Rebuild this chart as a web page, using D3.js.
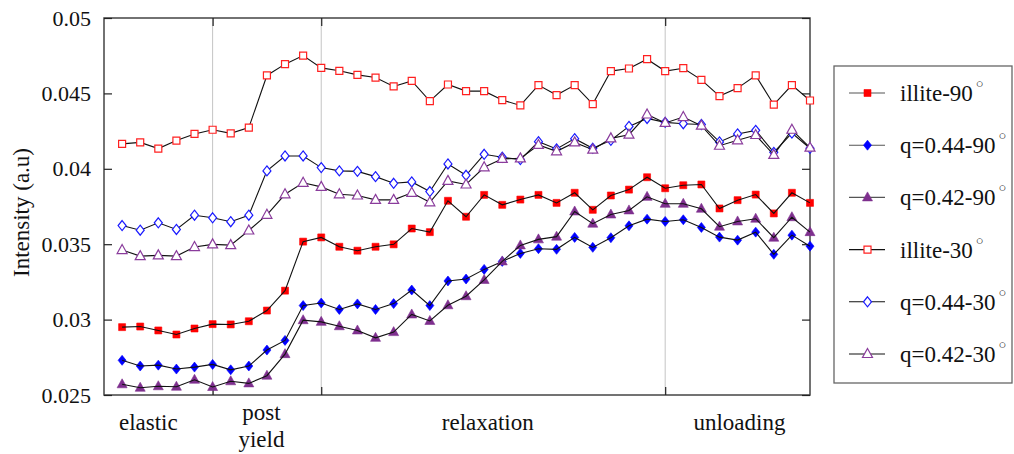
<!DOCTYPE html>
<html>
<head>
<meta charset="utf-8">
<script src="https://cdn.jsdelivr.net/npm/d3@7"></script>
<style>
  body { margin: 0; background: #fff; }
  svg { display: block; }
</style>
</head>
<body>
<svg id="chart" width="1014" height="454"></svg>
<script>
// Sample index along the loading history (1..39)
const samples = d3.range(1, 40);

// Intensity series (a.u)
const illite90 = [0.02950,0.02954,0.02928,0.02901,0.02941,0.02970,0.02968,0.02989,0.03060,0.03192,
  0.03517,0.03545,0.03483,0.03457,0.03483,0.03499,0.03604,0.03580,0.03788,0.03682,
  0.03827,0.03761,0.03796,0.03827,0.03774,0.03841,0.03728,0.03823,0.03862,0.03944,
  0.03871,0.03891,0.03896,0.03737,0.03792,0.03829,0.03704,0.03841,0.03774];
const q044_90 = [0.02730,0.02692,0.02698,0.02672,0.02685,0.02703,0.02667,0.02692,0.02798,0.02862,
  0.03093,0.03110,0.03067,0.03104,0.03067,0.03106,0.03196,0.03093,0.03256,0.03269,
  0.03333,0.03386,0.03439,0.03470,0.03466,0.03545,0.03479,0.03543,0.03622,0.03666,
  0.03651,0.03662,0.03611,0.03547,0.03527,0.03580,0.03433,0.03560,0.03487];
const q042_90 = [0.02571,0.02548,0.02558,0.02555,0.02601,0.02553,0.02591,0.02577,0.02628,0.02771,
  0.02996,0.02985,0.02956,0.02928,0.02879,0.02917,0.03034,0.02991,0.03095,0.03155,
  0.03263,0.03386,0.03492,0.03532,0.03550,0.03717,0.03636,0.03697,0.03724,0.03814,
  0.03768,0.03768,0.03735,0.03616,0.03651,0.03669,0.03543,0.03679,0.03580];
const illite30 = [0.04165,0.04175,0.04134,0.04187,0.04231,0.04259,0.04235,0.04273,0.04619,0.04694,
  0.04751,0.04669,0.04650,0.04623,0.04605,0.04546,0.04583,0.04449,0.04559,0.04515,
  0.04515,0.04456,0.04420,0.04555,0.04489,0.04555,0.04429,0.04648,0.04665,0.04727,
  0.04648,0.04667,0.04590,0.04482,0.04535,0.04619,0.04425,0.04555,0.04453];
const q044_30 = [0.03624,0.03593,0.03642,0.03598,0.03692,0.03675,0.03649,0.03692,0.03986,0.04085,
  0.04085,0.04008,0.03986,0.03983,0.03948,0.03904,0.03913,0.03849,0.04032,0.03957,
  0.04096,0.04077,0.04061,0.04180,0.04132,0.04200,0.04136,0.04189,0.04281,0.04334,
  0.04308,0.04299,0.04294,0.04178,0.04231,0.04255,0.04109,0.04237,0.04136];
const q042_30 = [0.03461,0.03421,0.03426,0.03421,0.03481,0.03499,0.03494,0.03591,0.03695,0.03831,
  0.03907,0.03880,0.03831,0.03823,0.03794,0.03794,0.03841,0.03778,0.03920,0.03896,
  0.04010,0.04066,0.04069,0.04158,0.04116,0.04175,0.04127,0.04202,0.04226,0.04360,
  0.04304,0.04343,0.04286,0.04153,0.04189,0.04224,0.04092,0.04259,0.04140];

// Legend names, marker shapes and colours
const names   = ["illite-90", "q=0.44-90", "q=0.42-90", "illite-30", "q=0.44-30", "q=0.42-30"];
const values  = [illite90, q044_90, q042_90, illite30, q044_30, q042_30];
const shapes  = ["square", "diamond", "triangle", "square", "diamond", "triangle"];
const colors  = ["#ff0000", "#0000ff", "#7e2f8e", "#ff2020", "#1a1aff", "#8a3c9c"];
const filled  = [true, true, true, false, false, false];

// Axis ticks and stage annotations
const yTicks = [0.025, 0.03, 0.035, 0.04, 0.045, 0.05];
const yTickLabels = ["0.025", "0.03", "0.035", "0.04", "0.045", "0.05"];
const stageBounds = [6, 12, 31];
const stageNames = [["elastic"], ["post", "yield"], ["relaxation"], ["unloading"]];
const stageCenters = [2.45, 8.7, 21.2, 35.1];

const SERIF = "Liberation Serif";
const svg = d3.select("#chart");
const plot = { left: 104, right: 810, top: 18, bottom: 395 };

const x = d3.scaleLinear().domain([0, 39]).range([plot.left, plot.right]);
const y = d3.scaleLinear().domain([0.025, 0.05]).range([plot.bottom, plot.top]);

function markerPath(shape) {
  if (shape === "square") return "M-3.5,-3.5H3.5V3.5H-3.5Z";
  if (shape === "diamond") return "M0,-5L4,0L0,5L-4,0Z";
  return "M0,-5.5L5,3.5L-5,3.5Z";
}

// Stage boundary lines
svg.append("g").selectAll("line").data(stageBounds).join("line")
  .attr("x1", d => x(d)).attr("x2", d => x(d))
  .attr("y1", plot.top).attr("y2", plot.bottom)
  .attr("stroke", "#c4c4c4").attr("stroke-width", 1);

// Plot frame
svg.append("rect")
  .attr("x", plot.left).attr("y", plot.top)
  .attr("width", plot.right - plot.left).attr("height", plot.bottom - plot.top)
  .attr("fill", "none").attr("stroke", "#444").attr("stroke-width", 1.5);

// Y axis (left, inward ticks) and mirrored ticks on the right
const yAxisL = d3.axisLeft(y).tickValues(yTicks).tickSize(-8).tickPadding(13)
  .tickFormat((d, i) => yTickLabels[i]);
const gL = svg.append("g").attr("transform", `translate(${plot.left},0)`).call(yAxisL);
gL.select(".domain").remove();
gL.selectAll(".tick line").attr("stroke", "#222").attr("stroke-width", 1.2);
gL.selectAll(".tick text")
  .style("font-family", SERIF).style("font-size", "22px").style("fill", "#111");

const yAxisR = d3.axisRight(y).tickValues(yTicks).tickSize(-8).tickFormat("");
const gR = svg.append("g").attr("transform", `translate(${plot.right},0)`).call(yAxisR);
gR.select(".domain").remove();
gR.selectAll(".tick line").attr("stroke", "#222").attr("stroke-width", 1.2);

// X ticks at stage boundaries, top and bottom, inward
const xAxisB = d3.axisBottom(x).tickValues(stageBounds).tickSize(-8).tickFormat("");
const gB = svg.append("g").attr("transform", `translate(0,${plot.bottom})`).call(xAxisB);
gB.select(".domain").remove();
gB.selectAll(".tick line").attr("stroke", "#222").attr("stroke-width", 1.2);
const xAxisT = d3.axisTop(x).tickValues(stageBounds).tickSize(-8).tickFormat("");
const gT = svg.append("g").attr("transform", `translate(0,${plot.top})`).call(xAxisT);
gT.select(".domain").remove();
gT.selectAll(".tick line").attr("stroke", "#222").attr("stroke-width", 1.2);

// Stage labels under the axis
const stageG = svg.append("g");
stageNames.forEach((lines, i) => {
  const t = stageG.append("text")
    .attr("x", x(stageCenters[i]))
    .attr("y", lines.length > 1 ? 420 : 430)
    .attr("text-anchor", "middle")
    .style("font-family", SERIF).style("font-size", "23px").style("fill", "#111");
  lines.forEach((ln, j) => {
    t.append("tspan").attr("x", x(stageCenters[i])).attr("dy", j === 0 ? 0 : 27).text(ln);
  });
});

// Y axis title
svg.append("text")
  .attr("transform", `translate(29,${(plot.top + plot.bottom) / 2 + 6}) rotate(-90)`)
  .attr("text-anchor", "middle")
  .style("font-family", SERIF).style("font-size", "23px").style("fill", "#111")
  .text("Intensity (a.u)");

// Series
const line = d3.line().x((d, i) => x(samples[i])).y(d => y(d));
const seriesG = svg.append("g");
values.forEach((vals, s) => {
  const g = seriesG.append("g");
  const drawLine = () => g.append("path").datum(vals)
    .attr("d", line).attr("fill", "none").attr("stroke", "#111").attr("stroke-width", 1.1);
  if (!filled[s]) drawLine();
  g.selectAll("path.m").data(vals).join("path").attr("class", "m")
    .attr("transform", (d, i) => `translate(${x(samples[i])},${y(d)})`)
    .attr("d", markerPath(shapes[s]))
    .attr("fill", filled[s] ? colors[s] : "#fff")
    .attr("stroke", colors[s])
    .attr("stroke-width", filled[s] ? 0.6 : 1.2);
  if (filled[s]) drawLine();
});

// Legend
const legend = svg.append("g");
legend.append("rect")
  .attr("x", 834).attr("y", 66).attr("width", 178).attr("height", 317)
  .attr("fill", "#fff").attr("stroke", "#666").attr("stroke-width", 1.3);
const legendY = d3.scalePoint().domain(names).range([93, 354]);
names.forEach((n, s) => {
  const cy = legendY(n);
  legend.append("line").attr("x1", 849).attr("x2", 885).attr("y1", cy).attr("y2", cy)
    .attr("stroke", filled[s] ? "#555" : "#111").attr("stroke-width", 1.1);
  legend.append("path").attr("transform", `translate(867.5,${cy})`)
    .attr("d", markerPath(shapes[s]))
    .attr("fill", filled[s] ? colors[s] : "#fff")
    .attr("stroke", colors[s]).attr("stroke-width", filled[s] ? 0.6 : 1.2);
  const t = legend.append("text").attr("x", 900).attr("y", cy + 8)
    .style("font-family", SERIF).style("font-size", "23px").style("fill", "#111");
  t.append("tspan").text(n);
  t.append("tspan").attr("dx", 3).attr("dy", -13).style("font-size", "13px").text("○");
});
</script>
</body>
</html>
